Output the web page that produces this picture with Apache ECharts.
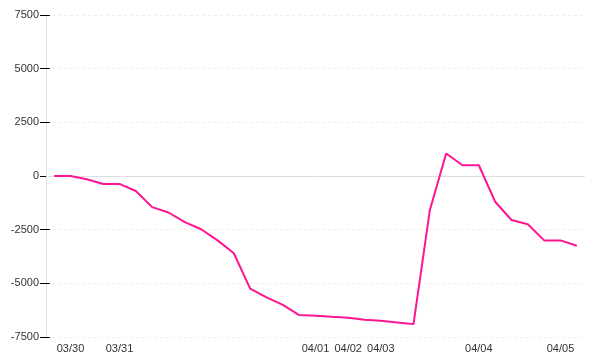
<!DOCTYPE html>
<html>
<head>
<meta charset="utf-8">
<script src="https://cdn.jsdelivr.net/npm/echarts@6/dist/echarts.min.js"></script>
<style>html,body{margin:0;padding:0;background:#fff;}#c{width:600px;height:360px;}</style>
</head>
<body>
<div id="c"></div>
<script>
const categories = [
  '03/29',
  '03/30','03/30','03/30',
  '03/31','03/31','03/31','03/31','03/31','03/31','03/31','03/31','03/31','03/31','03/31','03/31',
  '04/01','04/01',
  '04/02','04/02',
  '04/03','04/03','04/03','04/03','04/03','04/03',
  '04/04','04/04','04/04','04/04','04/04',
  '04/05','04/05'
];
const values = [
  0, 0, -150, -370, -370, -700, -1450, -1700, -2150, -2480, -3000, -3600,
  -5250, -5650, -6000, -6480, -6510, -6560, -6600, -6700, -6740, -6820, -6900,
  -1600, 1050, 500, 500, -1200, -2050, -2250, -3000, -3000, -3250
];
const tickLabels = ['03/30','03/31','04/01','04/02','04/03','04/04','04/05'];
const yTicks = { min: -7500, max: 7500, interval: 2500 };

const chart = echarts.init(document.getElementById('c'), null, { renderer: 'canvas' });
const font = { fontFamily: 'Liberation Sans', fontSize: 11, color: '#333' };
chart.setOption({
  animation: false,
  grid: { left: 46, right: 15, top: 15, bottom: 23, containLabel: false },
  xAxis: {
    type: 'category',
    data: categories,
    boundaryGap: true,
    axisLine: { show: false },
    axisTick: { show: false },
    splitLine: { show: false },
    axisLabel: Object.assign({}, font, {
      margin: 6,
      interval: function (idx, val) {
        return idx > 0 && categories[idx] !== categories[idx - 1] && tickLabels.indexOf(val) >= 0;
      }
    })
  },
  yAxis: [{
    type: 'value',
    min: yTicks.min, max: yTicks.max, interval: yTicks.interval,
    axisLine: { show: true, lineStyle: { color: '#ddd', width: 1 } },
    axisTick: { show: true, length: 6, lineStyle: { color: '#000', width: 1 } },
    axisLabel: Object.assign({}, font, { margin: 7, formatter: function (v) { return String(v); } }),
    splitLine: { show: true, lineStyle: { color: '#eee', type: [3, 3], width: 1 } }
  }, {
    type: 'value',
    position: 'left',
    min: yTicks.min, max: yTicks.max, interval: yTicks.interval,
    axisLine: { show: false },
    axisTick: { show: true, inside: true, length: 4, lineStyle: { color: '#000', width: 1 } },
    axisLabel: { show: false },
    splitLine: { show: false }
  }],
  series: [{
    type: 'line',
    data: values,
    yAxisIndex: 0,
    symbol: 'none',
    smooth: false,
    lineStyle: { color: '#ff1493', width: 2 },
    itemStyle: { color: '#ff1493' },
    markLine: {
      silent: true,
      symbol: 'none',
      label: { show: false },
      lineStyle: { color: '#ddd', type: 'solid', width: 1 },
      data: [{ yAxis: 0 }],
      z: 1
    }
  }]
});
</script>
</body>
</html>
